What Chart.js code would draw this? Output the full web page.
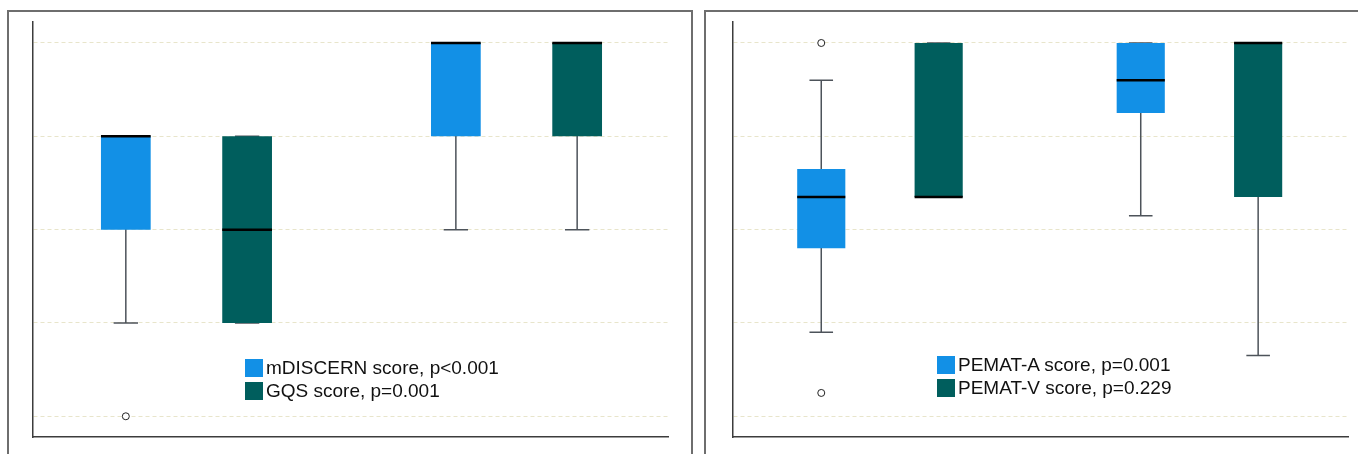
<!DOCTYPE html>
<html>
<head>
<meta charset="utf-8">
<script src="https://cdn.jsdelivr.net/npm/chart.js@4.4.1/dist/chart.umd.min.js"></script>
<style>
	html, body { margin: 0; padding: 0; background: #fff; }
	body { width: 1358px; height: 454px; position: relative; overflow: hidden; font-family: "Liberation Sans", Arial, Helvetica, sans-serif; }
	.frame { position: absolute; top: 10px; height: 470px; border: 2px solid #6e6e6e; border-bottom: none; box-sizing: border-box; }
	#frameLeft { left: 7px; width: 686px; }
	#frameRight { left: 704px; width: 700px; }
	canvas { position: absolute; top: 0; }
	.legend { position: absolute; font-size: 19px; color: #111; }
	.legend .row { display: flex; align-items: center; height: 23px; white-space: nowrap; }
	.legend .swatch { width: 18px; height: 18px; margin-right: 3px; flex: none; }
</style>
</head>
<body>
<div class="frame" id="frameLeft"></div>
<div class="frame" id="frameRight"></div>
<canvas id="leftChart" width="700" height="454" style="left:0"></canvas>
<canvas id="rightChart" width="658" height="454" style="left:700px"></canvas>
<div class="legend" id="leftLegend" style="left:245px; top:356px"></div>
<div class="legend" id="rightLegend" style="left:937px; top:353px"></div>
<script>
// grupos (sem rótulos visíveis no gráfico original)
const groups = ["Group 1", "Group 2"];

// painel esquerdo: mDISCERN e GQS
const leftTicks = [1, 2, 3, 4, 5];
const mdiscernLow = [2, 3];
const mdiscernQ1 = [3, 4];
const mdiscernMedian = [4, 5];
const mdiscernQ3 = [4, 5];
const mdiscernHigh = [4, 5];
const mdiscernOutliers = [[1], []];

const gqsLow = [2, 3];
const gqsQ1 = [2, 4];
const gqsMedian = [3, 5];
const gqsQ3 = [4, 5];
const gqsHigh = [4, 5];
const gqsOutliers = [[], []];

// painel direito: PEMAT-A e PEMAT-V (%)
const rightTicks = [20, 40, 60, 80, 100];
const pematALow = [38, 63];
const pematAQ1 = [56, 85];
const pematAMedian = [67, 92];
const pematAQ3 = [73, 100];
const pematAHigh = [92, 100];
const pematAOutliers = [[100, 25], []];

const pematVLow = [67, 33];
const pematVQ1 = [67, 67];
const pematVMedian = [67, 100];
const pematVQ3 = [100, 100];
const pematVHigh = [100, 100];
const pematVOutliers = [[], []];

const BLUE = "#1290e6";
const TEAL = "#005e5d";

// desenha bigodes, medianas e outliers a partir das escalas do Chart.js
const boxExtras = {
	id: "boxExtras",
	beforeDatasetsDraw(chart) {
		const ctx = chart.ctx;
		const y = chart.scales.y;
		chart.data.datasets.forEach((ds, di) => {
			chart.getDatasetMeta(di).data.forEach((el, i) => {
				const s = ds.stats;
				const cap = el.width * 0.49;
				ctx.save();
				ctx.strokeStyle = "#4d535a";
				ctx.lineWidth = 1.5;
				ctx.beginPath();
				ctx.moveTo(el.x, y.getPixelForValue(s.low[i]));
				ctx.lineTo(el.x, y.getPixelForValue(s.high[i]));
				[s.low[i], s.high[i]].forEach((v) => {
					const py = y.getPixelForValue(v);
					ctx.moveTo(el.x - cap / 2, py);
					ctx.lineTo(el.x + cap / 2, py);
				});
				ctx.stroke();
				ctx.restore();
			});
		});
	},
	afterDatasetsDraw(chart) {
		const ctx = chart.ctx;
		const y = chart.scales.y;
		chart.data.datasets.forEach((ds, di) => {
			chart.getDatasetMeta(di).data.forEach((el, i) => {
				const s = ds.stats;
				ctx.save();
				ctx.strokeStyle = "#000";
				ctx.lineWidth = 2.5;
				const my = y.getPixelForValue(s.median[i]);
				ctx.beginPath();
				ctx.moveTo(el.x - el.width / 2, my);
				ctx.lineTo(el.x + el.width / 2, my);
				ctx.stroke();
				// outliers
				ctx.lineWidth = 1;
				ctx.strokeStyle = "#222";
				ctx.fillStyle = "#fff";
				s.outliers[i].forEach((v) => {
					ctx.beginPath();
					ctx.arc(el.x, y.getPixelForValue(v), 3.5, 0, Math.PI * 2);
					ctx.fill();
					ctx.stroke();
				});
				ctx.restore();
			});
		});
	},
};

function makeSeries(label, color, low, q1, median, q3, high, outliers) {
	return {
		label: label,
		data: groups.map((g, i) => ({ x: i, y: [q1[i], q3[i]] })),
		backgroundColor: color,
		borderWidth: 0,
		categoryPercentage: 0.735,
		barPercentage: 0.41,
		stats: { low, q1, median, q3, high, outliers },
	};
}

function createBoxChart(elementId, datasets, xRange, yRange, ticks, padRight) {
	return new Chart(document.getElementById(elementId).getContext("2d"), {
		type: "bar",
		data: { datasets: datasets },
		options: {
			responsive: false,
			animation: false,
			devicePixelRatio: 1,
			layout: { padding: { left: 33, top: 22, right: padRight, bottom: 17 } },
			plugins: { legend: { display: false }, tooltip: { enabled: false } },
			scales: {
				x: {
					type: "linear",
					min: xRange[0],
					max: xRange[1],
					offset: false,
					grid: { display: false, offset: false, drawTicks: false },
					ticks: { display: false },
					border: { display: true, color: "#3c3c3c", width: 1.5 },
					afterBuildTicks: (axis) => {
						axis.ticks = groups.map((g, i) => ({ value: i }));
					},
				},
				y: {
					min: yRange[0],
					max: yRange[1],
					grid: { color: "#e8e5cb", lineWidth: 1, drawTicks: false },
					ticks: { display: false },
					// no v4, border.dash vale para as linhas de grade
					border: { display: true, color: "#3c3c3c", width: 1.5, dash: [4, 3] },
					afterBuildTicks: (axis) => {
						axis.ticks = ticks.map((v) => ({ value: v }));
					},
				},
			},
		},
		plugins: [boxExtras],
	});
}

function buildLegend(elementId, datasets) {
	const box = document.getElementById(elementId);
	datasets.forEach((ds) => {
		const row = document.createElement("div");
		row.className = "row";
		const sw = document.createElement("span");
		sw.className = "swatch";
		sw.style.background = ds.backgroundColor;
		const txt = document.createElement("span");
		txt.textContent = ds.label;
		row.appendChild(sw);
		row.appendChild(txt);
		box.appendChild(row);
	});
}

document.addEventListener("DOMContentLoaded", function () {
	Chart.defaults.font.family = '"Liberation Sans", Arial, sans-serif';

	const leftSets = [
		makeSeries("mDISCERN score, p<0.001", BLUE, mdiscernLow, mdiscernQ1, mdiscernMedian, mdiscernQ3, mdiscernHigh, mdiscernOutliers),
		makeSeries("GQS score, p=0.001", TEAL, gqsLow, gqsQ1, gqsMedian, gqsQ3, gqsHigh, gqsOutliers),
	];
	const rightSets = [
		makeSeries("PEMAT-A score, p=0.001", BLUE, pematALow, pematAQ1, pematAMedian, pematAQ3, pematAHigh, pematAOutliers),
		makeSeries("PEMAT-V score, p=0.229", TEAL, pematVLow, pematVQ1, pematVMedian, pematVQ3, pematVHigh, pematVOutliers),
	];

	createBoxChart("leftChart", leftSets, [-0.465, 1.459], [0.778, 5.225], leftTicks, 32);
	createBoxChart("rightChart", rightSets, [-0.46, 1.465], [15.56, 104.5], rightTicks, 10);

	buildLegend("leftLegend", leftSets);
	buildLegend("rightLegend", rightSets);
});
</script>
</body>
</html>
